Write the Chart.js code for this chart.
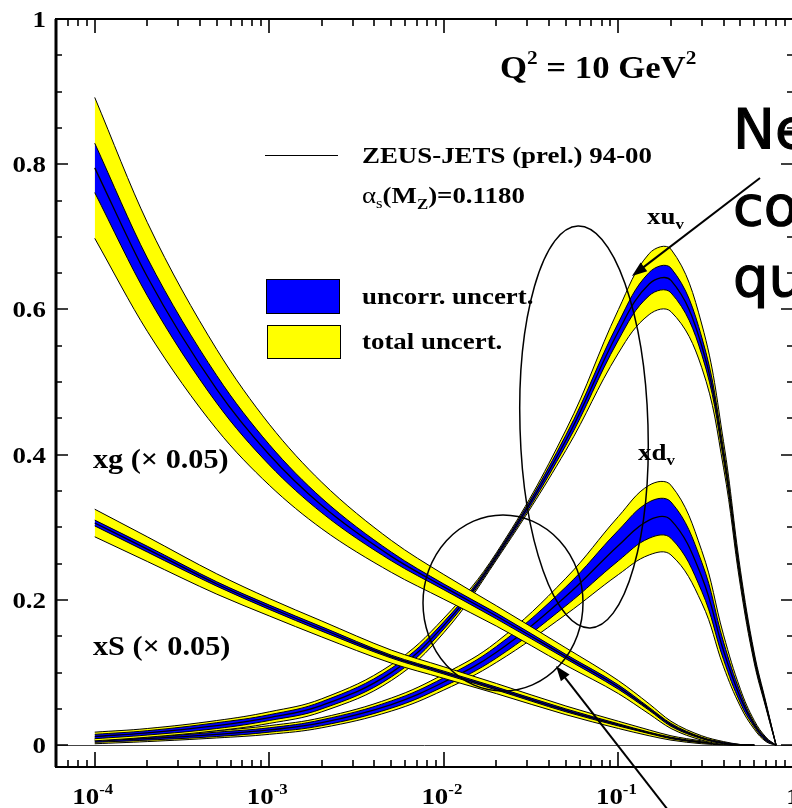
<!DOCTYPE html>
<html>
<head>
<meta charset="utf-8">
<script src="https://cdn.jsdelivr.net/npm/chart.js@4.4.0/dist/chart.umd.min.js"></script>
<style>
  html, body { margin: 0; padding: 0; background: #fff; overflow: hidden; }
  canvas { display: block; }
</style>
</head>
<body>
<canvas id="pdfChart" width="840" height="808"></canvas>
<script>
// x grid shared by all the curves
const xValues = [1e-4, 2e-4, 5e-4, 1e-3, 2e-3, 5e-3, 1e-2, 2e-2, 5e-2, 0.1, 0.15, 0.2, 0.3, 0.4, 0.5, 0.6, 0.7, 0.8];

// xu_v
const xuvCentral = [0.012, 0.017, 0.027, 0.038, 0.055, 0.10, 0.165, 0.26, 0.42, 0.57, 0.635, 0.64, 0.55, 0.40, 0.23, 0.12, 0.055, 0.0];
const xuvTotal   = [0.006, 0.006, 0.007, 0.008, 0.009, 0.011, 0.010, 0.005, 0.014, 0.030, 0.042, 0.043, 0.030, 0.018, 0.011, 0.007, 0.004, 0.0];
const xuvUncorr  = [0.003, 0.003, 0.004, 0.004, 0.005, 0.006, 0.005, 0.003, 0.007, 0.012, 0.016, 0.017, 0.012, 0.007, 0.004, 0.003, 0.002, 0.0];

// xd_v
const xdvCentral = [0.006, 0.009, 0.015, 0.021, 0.031, 0.056, 0.087, 0.128, 0.205, 0.275, 0.31, 0.31, 0.232, 0.13, 0.065, 0.028, 0.008, 0.0];
const xdvTotal   = [0.004, 0.004, 0.005, 0.006, 0.007, 0.009, 0.011, 0.014, 0.025, 0.040, 0.048, 0.048, 0.036, 0.022, 0.012, 0.006, 0.003, 0.0];
const xdvUncorr  = [0.002, 0.002, 0.003, 0.003, 0.004, 0.005, 0.006, 0.008, 0.013, 0.021, 0.025, 0.025, 0.020, 0.012, 0.007, 0.003, 0.002, 0.0];

// xg (x 0.05)
const xgCentral = [0.795, 0.645, 0.49, 0.40, 0.33, 0.26, 0.218, 0.178, 0.122, 0.08, 0.05, 0.028, 0.01, 0.003, 0.0005, 0.0];
const xgTotal   = [0.097, 0.075, 0.055, 0.042, 0.032, 0.022, 0.017, 0.014, 0.012, 0.009, 0.007, 0.005, 0.003, 0.002, 0.0005, 0.0];
const xgUncorr  = [0.034, 0.026, 0.019, 0.014, 0.010, 0.006, 0.004, 0.004, 0.003, 0.003, 0.002, 0.002, 0.001, 0.001, 0.0003, 0.0];

// xS (x 0.05)
const xsCentral = [0.306, 0.27, 0.222, 0.19, 0.16, 0.122, 0.10, 0.078, 0.048, 0.028, 0.017, 0.01, 0.004, 0.0015, 0.0005, 0.0];
const xsTotal   = [0.019, 0.017, 0.014, 0.012, 0.011, 0.009, 0.008, 0.007, 0.006, 0.005, 0.004, 0.003, 0.002, 0.001, 0.0003, 0.0];
const xsUncorr  = [0.004, 0.004, 0.003, 0.003, 0.003, 0.002, 0.002, 0.002, 0.002, 0.0015, 0.001, 0.001, 0.0007, 0.0004, 0.0001, 0.0];

// tick labels
const xTickExps = ['-4', '-3', '-2', '-1'];
const yTickLabels = ['0', '0.2', '0.4', '0.6', '0.8', '1'];

const YELLOW = '#ffff00';
const BLUE = '#0000ff';
const SERIF = '"Liberation Serif", "Times New Roman", serif';
const STRETCH = 1.12;

const datasets = [];

// peaked valence curves get a plain bezier so the tops stay round
function addCurve(central, total, uncorr, layer, peaked) {
    const pts = (err, sign) => central.map((c, i) => ({ x: xValues[i], y: Math.max(c + sign * err[i], 0) }));
    const base = datasets.length;
    const common = { pointRadius: 0, borderColor: '#000', borderWidth: 1 };
    if (peaked) common.tension = 0.4;
    else common.cubicInterpolationMode = 'monotone';
    datasets.push({ ...common, data: pts(total, 1), fill: base + 1, backgroundColor: YELLOW, order: layer + 5 });
    datasets.push({ ...common, data: pts(total, -1), fill: false, order: layer + 4 });
    datasets.push({ ...common, data: pts(uncorr, 1), fill: base + 3, backgroundColor: BLUE, order: layer + 3 });
    datasets.push({ ...common, data: pts(uncorr, -1), fill: false, order: layer + 2 });
    datasets.push({ ...common, data: pts(uncorr, 0), borderWidth: 1.3, fill: false, order: layer + 1 });
}

addCurve(xdvCentral, xdvTotal, xdvUncorr, 30, true);
addCurve(xuvCentral, xuvTotal, xuvUncorr, 20, true);
addCurve(xsCentral, xsTotal, xsUncorr, 10, false);
addCurve(xgCentral, xgTotal, xgUncorr, 0, false);

// text helper: runs of text, stretched horizontally like the scanned figure
function drawRuns(ctx, x, y, runs, align) {
    const widths = runs.map(r => {
        ctx.font = (r.bold === false ? '' : 'bold ') + r.size + 'px ' + (r.family || SERIF);
        return ctx.measureText(r.t).width * STRETCH;
    });
    const total = widths.reduce((s, w) => s + w, 0);
    let cx = x;
    if (align === 'center') cx = x - total / 2;
    if (align === 'right') cx = x - total;
    runs.forEach((r, i) => {
        ctx.save();
        ctx.font = (r.bold === false ? '' : 'bold ') + r.size + 'px ' + (r.family || SERIF);
        ctx.fillStyle = '#000';
        ctx.textAlign = 'left';
        ctx.textBaseline = 'alphabetic';
        ctx.translate(cx, y + (r.dy || 0));
        ctx.scale(STRETCH, 1);
        ctx.fillText(r.t, 0, 0);
        ctx.restore();
        cx += widths[i];
    });
}

function arrow(ctx, x1, y1, x2, y2) {
    const ang = Math.atan2(y2 - y1, x2 - x1);
    ctx.beginPath();
    ctx.moveTo(x1, y1);
    ctx.lineTo(x2 - 8 * Math.cos(ang), y2 - 8 * Math.sin(ang));
    ctx.stroke();
    ctx.beginPath();
    ctx.moveTo(x2, y2);
    ctx.lineTo(x2 - 16 * Math.cos(ang - 0.35), y2 - 16 * Math.sin(ang - 0.35));
    ctx.lineTo(x2 - 16 * Math.cos(ang + 0.35), y2 - 16 * Math.sin(ang + 0.35));
    ctx.closePath();
    ctx.fill();
}

const framePlugin = {
    id: 'framePlugin',
    beforeDatasetsDraw(chart) {
        const { ctx, chartArea: a, scales: { y } } = chart;
        const y0 = Math.round(y.getPixelForValue(0)) + 0.5;
        ctx.save();
        ctx.strokeStyle = '#444';
        ctx.lineWidth = 1;
        ctx.beginPath();
        ctx.moveTo(a.left, y0);
        ctx.lineTo(a.right, y0);
        ctx.stroke();
        ctx.restore();
    },
    afterDatasetsDraw(chart) {
        const { ctx, chartArea: a, scales: { x, y } } = chart;
        ctx.save();
        ctx.strokeStyle = '#000';
        ctx.fillStyle = '#000';

        // x ticks, inward on bottom and top
        ctx.lineWidth = 1.6;
        for (let d = -5; d <= 0; d++) {
            for (let m = 1; m <= 9; m++) {
                const v = m * Math.pow(10, d);
                if (v < x.min * 1.001 || v > x.max * 1.001) continue;
                const px = Math.round(x.getPixelForValue(v));
                const big = m === 1;
                ctx.beginPath();
                ctx.moveTo(px, a.bottom);
                ctx.lineTo(px, a.bottom - (big ? 15 : 7));
                ctx.moveTo(px, a.top);
                ctx.lineTo(px, a.top + (big ? 14 : 7));
                ctx.stroke();
            }
        }
        // y ticks, inward on left and right
        for (let i = 0; i <= 20; i++) {
            const v = i * 0.05;
            const py = Math.round(y.getPixelForValue(v));
            const big = i % 4 === 0;
            ctx.beginPath();
            ctx.moveTo(a.left, py);
            ctx.lineTo(a.left + (big ? 12 : 6), py);
            ctx.moveTo(a.right, py);
            ctx.lineTo(a.right - (big ? 12 : 6), py);
            ctx.stroke();
        }

        // frame
        ctx.lineWidth = 2;
        ctx.strokeRect(a.left, a.top, a.right - a.left, a.bottom - a.top);
        ctx.lineWidth = 3;
        ctx.beginPath();
        ctx.moveTo(a.left, a.top);
        ctx.lineTo(a.left, a.bottom);
        ctx.stroke();

        // y labels
        yTickLabels.forEach((lab, i) => {
            const py = y.getPixelForValue(i * 0.2);
            drawRuns(ctx, 46, py + 8, [{ t: lab, size: 24 }], 'right');
        });
        // x labels
        xTickExps.forEach((e, i) => {
            const px = x.getPixelForValue(Math.pow(10, -4 + i));
            drawRuns(ctx, px - 2, a.bottom + 37, [{ t: '10', size: 24 }, { t: e, size: 15, dy: -10 }], 'center');
        });
        drawRuns(ctx, x.getPixelForValue(1), a.bottom + 37, [{ t: '1', size: 24 }], 'center');
        ctx.restore();
    },
    afterDraw(chart) {
        const { ctx } = chart;
        ctx.save();

        // title text
        drawRuns(ctx, 500, 78, [
            { t: 'Q', size: 31 }, { t: '2', size: 19, dy: -14 },
            { t: ' = 10 GeV', size: 31 }, { t: '2', size: 19, dy: -14 }
        ]);

        // legend
        ctx.strokeStyle = '#000';
        ctx.lineWidth = 1;
        ctx.beginPath();
        ctx.moveTo(265, 155.5);
        ctx.lineTo(338, 155.5);
        ctx.stroke();
        drawRuns(ctx, 362, 163, [{ t: 'ZEUS-JETS (prel.) 94-00', size: 24 }]);
        drawRuns(ctx, 362, 203, [
            { t: '\u03b1', size: 24, bold: false }, { t: 's', size: 15, bold: false, dy: 5 },
            { t: '(M', size: 24 }, { t: 'Z', size: 15, dy: 6 }, { t: ')=0.1180', size: 24 }
        ]);
        ctx.fillStyle = BLUE;
        ctx.fillRect(266, 279, 73, 34);
        ctx.strokeRect(266.5, 279.5, 73, 34);
        ctx.fillStyle = YELLOW;
        ctx.fillRect(267, 325, 73, 33);
        ctx.strokeRect(267.5, 325.5, 73, 33);
        drawRuns(ctx, 362, 304, [{ t: 'uncorr. uncert.', size: 24 }]);
        drawRuns(ctx, 362, 349, [{ t: 'total uncert.', size: 24 }]);

        // curve labels
        drawRuns(ctx, 647, 224, [{ t: 'xu', size: 24 }, { t: 'v', size: 15, dy: 5 }]);
        drawRuns(ctx, 638, 460, [{ t: 'xd', size: 24 }, { t: 'v', size: 15, dy: 5 }]);
        drawRuns(ctx, 93, 468, [{ t: 'xg (\u00d7 0.05)', size: 27 }]);
        drawRuns(ctx, 93, 655, [{ t: 'xS (\u00d7 0.05)', size: 27 }]);

        // hand-drawn annotations
        ctx.strokeStyle = '#000';
        ctx.fillStyle = '#000';
        ctx.lineWidth = 1.5;
        ctx.beginPath();
        ctx.ellipse(584, 427, 64, 201, -0.03, 0, Math.PI * 2);
        ctx.stroke();
        ctx.beginPath();
        ctx.ellipse(503, 603, 80, 88, 0, 0, Math.PI * 2);
        ctx.stroke();
        ctx.lineWidth = 2;
        arrow(ctx, 760, 178, 632, 276);
        arrow(ctx, 668, 810, 556, 666);

        ctx.font = '56px "Comic Sans MS", "DejaVu Sans", sans-serif';
        ctx.textAlign = 'left';
        ctx.lineWidth = 1.2;
        [['Ne', 148], ['co', 225], ['qu', 296]].forEach(([t, by]) => {
            ctx.fillText(t, 733, by);
            ctx.strokeText(t, 733, by);
        });
        ctx.restore();
    }
};

new Chart(document.getElementById('pdfChart'), {
    type: 'line',
    data: { datasets: datasets },
    options: {
        responsive: false,
        animation: false,
        layout: { padding: { left: 56, top: 19, right: 47, bottom: 41 } },
        plugins: { legend: { display: false }, tooltip: { enabled: false } },
        scales: {
            x: { type: 'logarithmic', min: 6e-5, max: 1, display: false },
            y: { type: 'linear', min: -0.03, max: 1, display: false }
        }
    },
    plugins: [framePlugin]
});
</script>
</body>
</html>
